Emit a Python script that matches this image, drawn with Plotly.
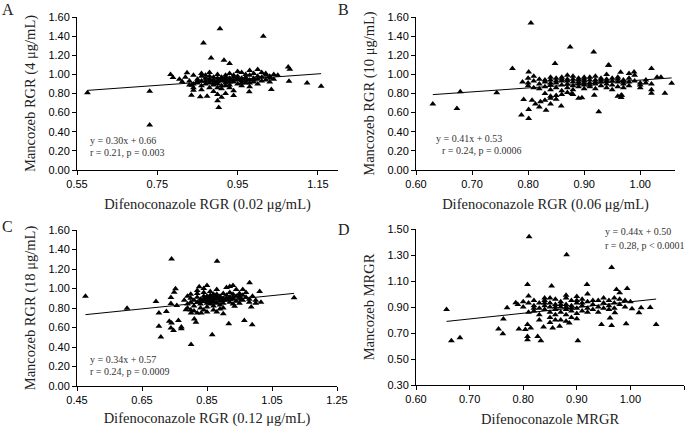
import plotly.graph_objects as go

# ---------------- data ----------------
panel_a_points = [
    (0.576, 0.807), (0.731, 0.824), (0.731, 0.470), (0.906, 1.478), (0.865, 1.329), (1.014, 1.398),
    (0.884, 1.172), (0.916, 1.148), (0.930, 1.113), (1.158, 0.877), (1.123, 0.911), (1.078, 0.929),
    (1.076, 1.078), (1.080, 1.054), (1.034, 0.842), (0.979, 0.817), (0.903, 0.654), (0.900, 0.723),
    (0.835, 0.783), (0.874, 0.772), (0.857, 0.765), (0.783, 0.998), (0.789, 0.967), (0.805, 0.950),
    (0.824, 1.016), (0.812, 0.922), (0.840, 0.835), (0.836, 0.887),
    (0.84, 0.90), (0.85, 0.95), (0.86, 0.98), (0.86, 0.88), (0.87, 0.93), (0.87, 0.99), (0.88, 0.91),
    (0.88, 0.86), (0.88, 1.02), (0.89, 0.94), (0.89, 0.82), (0.89, 0.97), (0.90, 0.90), (0.90, 0.79),
    (0.90, 0.96), (0.90, 1.00), (0.91, 0.93), (0.91, 0.85), (0.91, 0.88), (0.91, 0.76), (0.92, 0.95),
    (0.92, 0.91), (0.92, 0.99), (0.92, 0.80), (0.93, 0.94), (0.93, 0.89), (0.93, 1.01), (0.93, 0.86),
    (0.94, 0.92), (0.94, 0.97), (0.94, 0.78), (0.95, 0.94), (0.95, 0.90), (0.95, 1.03), (0.96, 0.93),
    (0.96, 0.88), (0.96, 0.96), (0.97, 0.95), (0.97, 0.91), (0.97, 1.00), (0.98, 0.94), (0.98, 1.04),
    (0.98, 0.87), (0.99, 0.96), (0.99, 0.92), (1.00, 1.05), (1.00, 0.95), (1.00, 0.90), (1.01, 0.97),
    (1.01, 1.02), (1.02, 0.94), (1.02, 0.99), (1.03, 0.96), (1.03, 0.92), (1.04, 1.00), (1.04, 0.95),
    (0.83, 0.93), (0.82, 0.97), (0.84, 0.99), (0.85, 0.91), (0.86, 0.84), (0.87, 0.96), (0.88, 0.95),
    (0.89, 0.91), (0.90, 0.93), (0.91, 0.97), (0.92, 0.93), (0.93, 0.96), (0.94, 0.94), (0.95, 0.96),
    (0.96, 0.91), (0.97, 0.97), (0.98, 0.99), (0.99, 1.01), (1.00, 0.98), (1.01, 0.93), (1.02, 1.01),
    (0.84, 0.86), (0.86, 1.01), (0.88, 0.98), (0.90, 0.86), (0.92, 0.88), (0.94, 0.99), (0.96, 1.02),
    (0.98, 0.91), (0.94, 0.83), (0.93, 0.92), (0.91, 0.95), (0.89, 0.89), (0.87, 0.90), (0.85, 0.93),
    (0.83, 0.89), (0.95, 0.98), (0.97, 0.93), (0.99, 0.94), (1.03, 0.98), (1.05, 0.99), (0.92, 0.97),
    (0.90, 0.92), (0.88, 0.93), (0.86, 0.93),
]

panel_b_points = [
    (0.630, 0.689), (0.673, 0.643), (0.679, 0.817), (0.744, 0.807), (0.772, 1.061), (0.788, 0.574),
    (0.805, 1.537), (0.801, 0.539), (0.801, 0.633), (0.875, 1.287), (0.917, 1.235), (0.926, 0.609),
    (0.943, 1.096), (0.848, 1.113), (0.801, 1.026), (0.792, 0.737), (0.807, 0.730), (0.832, 0.626),
    (0.859, 0.668), (0.813, 0.689), (0.822, 0.713), (0.840, 0.689), (0.878, 0.800), (0.896, 0.755),
    (0.918, 0.783), (0.966, 0.783), (0.966, 0.758), (1.020, 1.061), (1.037, 0.970), (1.056, 0.908),
    (1.044, 0.803), (1.020, 0.803), (0.967, 0.783), (0.989, 1.026), (0.944, 1.096), (0.965, 1.023),
    (0.83, 0.73), (0.84, 0.77), (0.82, 0.66), (0.85, 0.74),
    (0.79, 0.92), (0.80, 0.88), (0.80, 0.96), (0.81, 0.93), (0.81, 0.86), (0.82, 0.90), (0.82, 0.95),
    (0.83, 0.87), (0.83, 0.92), (0.83, 0.80), (0.84, 0.89), (0.84, 0.94), (0.84, 0.84), (0.85, 0.91),
    (0.85, 0.96), (0.85, 0.86), (0.85, 0.78), (0.86, 0.93), (0.86, 0.89), (0.86, 0.97), (0.86, 0.83),
    (0.87, 0.90), (0.87, 0.95), (0.87, 0.86), (0.87, 0.81), (0.88, 0.92), (0.88, 0.88), (0.88, 0.98),
    (0.88, 0.84), (0.89, 0.94), (0.89, 0.90), (0.89, 0.87), (0.89, 0.96), (0.90, 0.93), (0.90, 0.89),
    (0.90, 0.95), (0.90, 0.85), (0.91, 0.91), (0.91, 0.97), (0.91, 0.87), (0.92, 0.94), (0.92, 0.90),
    (0.92, 0.98), (0.92, 0.85), (0.93, 0.92), (0.93, 0.96), (0.93, 0.88), (0.94, 0.95), (0.94, 0.90),
    (0.94, 1.00), (0.94, 0.86), (0.95, 0.93), (0.95, 0.89), (0.96, 0.97), (0.96, 0.92), (0.96, 0.87),
    (0.97, 0.94), (0.97, 0.90), (0.98, 0.96), (0.98, 1.01), (0.98, 0.88), (0.99, 0.93), (0.99, 0.99),
    (1.00, 0.91), (1.00, 0.86), (1.01, 0.94), (1.02, 0.90), (1.03, 0.97), (0.82, 0.85), (0.84, 0.91),
    (0.86, 0.95), (0.88, 0.95), (0.90, 0.91), (0.91, 0.94), (0.93, 0.94), (0.95, 0.96), (0.97, 0.92),
    (0.87, 0.93), (0.85, 0.93), (0.89, 0.92), (0.92, 0.92), (0.94, 0.93), (0.83, 0.94), (0.81, 0.98),
    (0.80, 0.91), (0.84, 0.75), (0.86, 0.79), (0.88, 0.79), (0.89, 0.75), (0.84, 0.97), (0.87, 0.99),
    (0.90, 0.97), (0.91, 0.89), (0.96, 0.95), (0.95, 0.84), (0.96, 0.77), (0.97, 0.86), (0.98, 0.92),
    (1.00, 0.89), (1.01, 0.91), (1.02, 0.84),
]

panel_c_points = [
    (0.476, 0.921), (0.604, 0.797), (0.693, 0.866), (0.702, 0.749), (0.702, 0.612), (0.708, 0.502),
    (0.741, 1.302), (0.881, 1.280), (0.801, 0.426), (0.866, 0.526), (0.725, 0.763), (0.734, 0.663),
    (0.741, 0.646), (0.747, 0.570), (0.739, 0.594), (0.762, 0.673), (0.771, 0.604), (0.771, 0.587),
    (0.753, 0.997), (0.749, 0.962), (0.739, 0.907), (0.739, 0.845), (0.757, 0.825), (0.826, 1.017),
    (0.850, 1.031), (0.917, 0.639), (0.965, 0.673), (0.989, 0.629), (0.981, 1.058), (1.012, 0.969),
    (1.118, 0.904), (0.811, 0.687), (0.816, 0.653), (0.785, 0.783), (0.801, 0.749), (0.832, 0.749),
    (0.935, 0.818), (0.986, 0.811), (1.016, 0.859), (0.956, 0.887),
    (0.78, 0.88), (0.79, 0.92), (0.79, 0.84), (0.80, 0.90), (0.80, 0.86), (0.80, 0.94), (0.81, 0.88),
    (0.81, 0.82), (0.82, 0.91), (0.82, 0.86), (0.82, 0.95), (0.83, 0.89), (0.83, 0.84), (0.83, 0.80),
    (0.84, 0.92), (0.84, 0.87), (0.84, 0.96), (0.85, 0.90), (0.85, 0.85), (0.85, 0.81), (0.86, 0.93),
    (0.86, 0.88), (0.86, 0.84), (0.86, 0.97), (0.87, 0.91), (0.87, 0.86), (0.87, 0.82), (0.88, 0.94),
    (0.88, 0.89), (0.88, 0.85), (0.88, 0.99), (0.89, 0.92), (0.89, 0.87), (0.89, 0.83), (0.90, 0.95),
    (0.90, 0.90), (0.90, 0.85), (0.90, 0.80), (0.91, 0.93), (0.91, 0.88), (0.91, 1.01), (0.92, 0.91),
    (0.92, 0.86), (0.92, 0.96), (0.93, 0.89), (0.93, 0.94), (0.93, 0.84), (0.94, 0.92), (0.94, 0.87),
    (0.94, 0.99), (0.95, 0.90), (0.95, 0.95), (0.95, 0.85), (0.96, 0.93), (0.96, 0.88), (0.97, 0.91),
    (0.97, 0.96), (0.98, 0.89), (0.98, 0.86), (0.99, 0.92), (1.00, 0.88), (1.00, 0.85), (0.81, 0.77),
    (0.82, 0.75), (0.84, 0.78), (0.85, 0.76), (0.87, 0.78), (0.88, 0.76), (0.89, 0.79), (0.90, 0.74),
    (0.86, 0.91), (0.87, 0.89), (0.89, 0.90), (0.91, 0.90), (0.92, 0.89), (0.88, 0.92), (0.85, 0.88),
    (0.83, 0.87), (0.84, 0.89), (0.86, 0.86), (0.90, 0.88), (0.93, 0.91), (0.95, 0.92), (0.87, 0.94),
    (0.85, 0.92), (0.79, 0.80), (0.80, 0.78), (0.93, 1.03), (0.92, 1.02), (0.96, 0.99), (0.82, 0.98),
    (0.84, 1.00),
]

panel_d_points = [
    (0.657, 0.881), (0.666, 0.641), (0.682, 0.664), (0.754, 0.731), (0.762, 0.695), (0.763, 0.808),
    (0.770, 0.894), (0.811, 1.441), (0.881, 1.301), (0.965, 1.203), (0.808, 1.074), (0.853, 1.061),
    (0.919, 1.074), (0.994, 1.043), (0.974, 1.035), (1.048, 0.765), (1.037, 0.896), (1.003, 0.886),
    (0.992, 0.772), (0.965, 0.757), (0.946, 0.765), (0.962, 0.816), (0.971, 0.855), (1.016, 0.855),
    (1.020, 0.894), (0.902, 0.641), (0.833, 0.641), (0.827, 0.674), (0.808, 0.674), (0.808, 0.648),
    (0.804, 0.726), (0.814, 0.739), (0.808, 0.765), (0.792, 0.731), (0.838, 0.746), (0.855, 0.739),
    (0.886, 0.777), (0.868, 0.752), (0.786, 0.932), (0.810, 0.984),
    (0.80, 0.90), (0.81, 0.93), (0.81, 0.86), (0.82, 0.91), (0.82, 0.95), (0.82, 0.87), (0.83, 0.89),
    (0.83, 0.93), (0.83, 0.84), (0.84, 0.91), (0.84, 0.88), (0.84, 0.95), (0.85, 0.90), (0.85, 0.86),
    (0.85, 0.93), (0.85, 0.82), (0.86, 0.92), (0.86, 0.88), (0.86, 0.96), (0.86, 0.84), (0.87, 0.90),
    (0.87, 0.94), (0.87, 0.86), (0.87, 0.80), (0.88, 0.92), (0.88, 0.88), (0.88, 0.97), (0.88, 0.84),
    (0.89, 0.91), (0.89, 0.95), (0.89, 0.87), (0.89, 0.82), (0.90, 0.93), (0.90, 0.89), (0.90, 0.98),
    (0.90, 0.85), (0.91, 0.91), (0.91, 0.96), (0.91, 0.87), (0.92, 0.94), (0.92, 0.89), (0.92, 1.00),
    (0.93, 0.92), (0.93, 0.88), (0.94, 0.95), (0.94, 0.90), (0.94, 0.86), (0.95, 0.93), (0.95, 0.97),
    (0.95, 0.89), (0.96, 0.91), (0.96, 0.95), (0.97, 0.93), (0.97, 0.89), (0.98, 0.92), (0.98, 0.96),
    (0.99, 0.90), (1.00, 0.94), (0.83, 0.80), (0.85, 0.78), (0.86, 0.80), (0.88, 0.79), (0.90, 0.81),
    (0.87, 0.92), (0.89, 0.89), (0.86, 0.90), (0.84, 0.93), (0.88, 0.90), (0.91, 0.93), (0.93, 0.95),
    (0.82, 0.89), (0.80, 0.94), (0.79, 0.92), (0.85, 0.97), (0.90, 0.95), (0.92, 0.86), (0.96, 0.88),
    (0.97, 0.97), (0.99, 0.95), (0.98, 1.01), (0.88, 0.99), (0.84, 0.97),
]

# regression equations (slope, intercept)
slopes = [0.30, 0.41, 0.34, 0.44]
intercepts = [0.66, 0.53, 0.57, 0.50]

panel_letters = ["A", "B", "C", "D"]
x_titles = ["Difenoconazole RGR (0.02 μg/mL)", "Difenoconazole RGR (0.06 μg/mL)",
            "Difenoconazole RGR (0.12 μg/mL)", "Difenoconazole MRGR"]
y_titles = ["Mancozeb RGR (4 μg/mL)", "Mancozeb RGR (10 μg/mL)",
            "Mancozeb RGR (18 μg/mL)", "Mancozeb MRGR"]
stat_lines = [
    ["y = 0.30x + 0.66", "r = 0.21, p = 0.003"],
    ["y = 0.41x + 0.53", "r = 0.24, p = 0.0006"],
    ["y = 0.34x + 0.57", "r = 0.24, p = 0.0009"],
    ["y = 0.44x + 0.50", "r = 0.28, p < 0.0001"],
]
x_ranges = [(0.55, 1.20, 0.2), (0.60, 1.062, 0.1), (0.45, 1.25, 0.2), (0.60, 1.10, 0.1)]
y_ranges = [(0.0, 1.6, 0.2), (0.0, 1.6, 0.2), (0.0, 1.6, 0.2), (0.30, 1.50, 0.2)]

# ---------------- layout geometry ----------------
W, H = 685, 427


def fx(px):
    return px / W


def fy(py):
    return 1 - py / H


# pixel boxes of plot areas: (left, right, top, bottom)
boxes = [(77, 338, 17, 170), (416, 675, 17, 170), (77, 337, 230, 386), (416, 684, 229, 385)]

SERIF = "Liberation Serif, Times New Roman, serif"
SANS = "Liberation Sans, Arial, sans-serif"

fig = go.Figure()
all_points = [panel_a_points, panel_b_points, panel_c_points, panel_d_points]

for i, pts in enumerate(all_points):
    sfx = "" if i == 0 else str(i + 1)
    xs = [p[0] for p in pts]
    ys = [p[1] for p in pts]
    fig.add_trace(go.Scatter(
        x=xs, y=ys, mode="markers", xaxis="x" + sfx, yaxis="y" + sfx,
        marker=dict(symbol="triangle-up", size=6, color="black", line=dict(width=0)),
        showlegend=False, hoverinfo="x+y", cliponaxis=False))
    x0, x1 = min(xs), max(xs)
    fig.add_trace(go.Scatter(
        x=[x0, x1], y=[slopes[i] * x0 + intercepts[i], slopes[i] * x1 + intercepts[i]],
        mode="lines", xaxis="x" + sfx, yaxis="y" + sfx,
        line=dict(color="black", width=1), showlegend=False, hoverinfo="skip"))

layout = dict(width=W, height=H, margin=dict(l=0, r=0, t=0, b=0, autoexpand=False),
              paper_bgcolor="white", plot_bgcolor="white", showlegend=False)

for i in range(4):
    l, r, t, b = boxes[i]
    sfx = "" if i == 0 else str(i + 1)
    xr = x_ranges[i]
    yr = y_ranges[i]
    common = dict(showline=True, linecolor="black", linewidth=1, ticks="outside", ticklen=4,
                  tickcolor="black", tickwidth=1, showgrid=False, zeroline=False,
                  automargin=False,
                  tickformat=".2f", tickfont=dict(family=SANS, size=11, color="black"))
    layout["xaxis" + sfx] = dict(common, domain=[fx(l), fx(r)], anchor="y" + sfx,
                                 range=[xr[0], xr[1]], tick0=xr[0], dtick=xr[2],
                                 title=dict(text=x_titles[i], standoff=9,
                                            font=dict(family=SERIF, size=14.5, color="#222")))
    layout["yaxis" + sfx] = dict(common, domain=[fy(b), fy(t)], anchor="x" + sfx,
                                 range=[yr[0], yr[1]], tick0=yr[0], dtick=yr[2],
                                 title=dict(text=y_titles[i], standoff=9,
                                            font=dict(family=SERIF, size=14.5, color="#222")))

annotations = []
letter_pos = [(8, 9), (343, 9), (8, 226), (344, 229)]
for i, (px, py) in enumerate(letter_pos):
    annotations.append(dict(text=panel_letters[i], x=fx(px), y=fy(py), xref="paper", yref="paper",
                            showarrow=False, xanchor="center", yanchor="middle",
                            font=dict(family=SERIF, size=16, color="#222")))

stat_pos = [((88, 141), (88, 153)), ((434, 138), (440, 151)),
            ((88, 359), (88, 371)), ((603, 231), (603, 245))]
for i, (p1, p2) in enumerate(stat_pos):
    for j, (px, py) in enumerate([p1, p2]):
        annotations.append(dict(text=stat_lines[i][j], x=fx(px), y=fy(py), xref="paper",
                                yref="paper", showarrow=False, xanchor="left", yanchor="middle",
                                font=dict(family=SERIF, size=10, color="#333")))

layout["annotations"] = annotations
fig.update_layout(**layout)
# remove the browser's default 8px body margin so the figure fills the window exactly
fig.write_html("out.html", config={"displayModeBar": False},
               post_script="document.body.style.margin='0';")
